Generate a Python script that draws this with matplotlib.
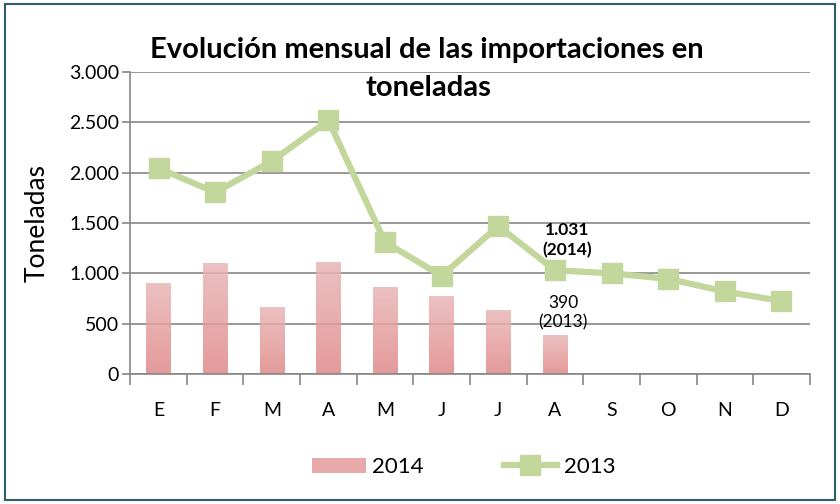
import numpy as np
import matplotlib.pyplot as plt
from matplotlib.patches import Rectangle
from matplotlib.lines import Line2D
from matplotlib.patches import Patch
from matplotlib.colors import LinearSegmentedColormap
from matplotlib.ticker import FuncFormatter

plt.rcParams['font.family'] = ['Lato', 'DejaVu Sans']

# --- Datos ---
meses = ['E', 'F', 'M', 'A', 'M', 'J', 'J', 'A', 'S', 'O', 'N', 'D']
imp_2014 = [900, 1100, 670, 1110, 860, 775, 635, 390]
imp_2013 = [2045, 1805, 2115, 2520, 1310, 975, 1470, 1031, 1000, 945, 820, 725]

verde = '#c3d69b'
rosa = '#e39a9a'
gris = '#868686'

fig = plt.figure(figsize=(8.4, 5.04), dpi=100)
ax = fig.add_axes([0.155, 0.258, 0.809, 0.599])

x = np.arange(len(meses))
x14 = np.arange(len(imp_2014))

ax.set_axisbelow(True)
ax.yaxis.grid(True, color=gris, linewidth=1.2)
bars = ax.bar(x14, imp_2014, width=0.43, color=rosa, alpha=0.0, zorder=2)

# degradado vertical en las barras
cmap_bar = LinearSegmentedColormap.from_list('rosa', ['#e08888', '#e9b6b6'])
grad = np.linspace(0, 1, 256).reshape(-1, 1)
for b in bars:
    x0, w, h = b.get_x(), b.get_width(), b.get_height()
    im = ax.imshow(grad, cmap=cmap_bar, origin='lower', aspect='auto',
                   extent=(x0, x0 + w, 0, h), alpha=0.85, zorder=2)
    im.set_clip_path(b)

ax.plot(x, imp_2013, color=verde, linewidth=4.5, marker='s', markersize=15,
        markerfacecolor=verde, markeredgecolor=verde, zorder=3)

ax.text(7.22, 1330, '1.031\n(2014)', ha='center', va='center', fontsize=12.5,
        fontweight='bold', linespacing=1.3)
ax.text(7.15, 610, '390\n(2013)', ha='center', va='center', fontsize=12.5,
        linespacing=1.3)

ax.set_xlim(-0.5, len(meses) - 0.5)
ax.set_ylim(0, 3000)
ax.set_yticks(range(0, 3001, 500))
ax.yaxis.set_major_formatter(FuncFormatter(lambda v, p: f'{int(v):,}'.replace(',', '.')))
ax.set_xticks(x)
ax.set_xticklabels(meses)
ax.set_xticks(np.arange(-0.5, len(meses), 1), minor=True)
ax.tick_params(axis='x', which='major', length=0, labelsize=14, pad=20)
ax.tick_params(axis='x', which='minor', length=8, color=gris, width=1.2)
ax.tick_params(axis='y', length=6, color=gris, width=1.2, labelsize=14, pad=2)
for s in ['top', 'right']:
    ax.spines[s].set_visible(False)
ax.spines['left'].set_color(gris)
ax.spines['bottom'].set_color(gris)
ax.spines['left'].set_linewidth(1.2)
ax.spines['bottom'].set_linewidth(1.2)

ax.set_ylabel('Toneladas', fontsize=19)
ax.yaxis.set_label_coords(-0.118, 0.5)

fig.text(0.508, 0.9, 'Evolución mensual de las importaciones en',
         ha='center', va='center', fontsize=21, fontweight='bold')
fig.text(0.51, 0.825, 'toneladas', ha='center', va='center',
         fontsize=21, fontweight='bold')

handles = [Patch(facecolor=rosa, alpha=0.85, label='2014'),
           Line2D([0], [0], color=verde, linewidth=4.5, marker='s', markersize=14,
                  label='2013')]
fig.legend(handles=handles, loc='center', bbox_to_anchor=(0.552, 0.073), ncol=2,
           frameon=False, fontsize=16, handlelength=2.4, columnspacing=3.6,
           handletextpad=0.3)

fig.patches.append(Rectangle((0.006, 0.008), 0.988, 0.984, transform=fig.transFigure,
                             fill=False, edgecolor='#2e5f6b', linewidth=1.5))

plt.savefig('out.png', dpi=100)
